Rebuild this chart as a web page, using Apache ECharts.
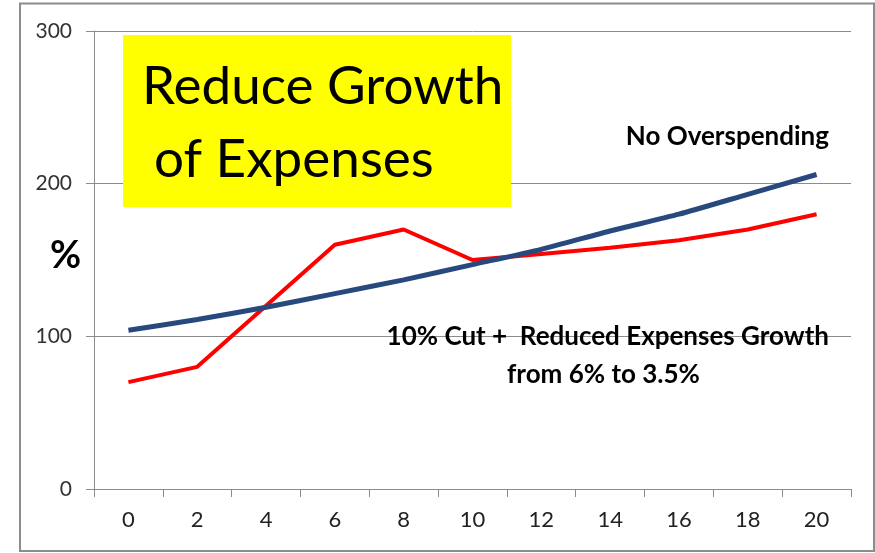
<!DOCTYPE html>
<html>
<head>
<meta charset="utf-8">
<script src="https://cdn.jsdelivr.net/npm/echarts@6/dist/echarts.min.js"></script>
<style>
  html, body { margin: 0; padding: 0; background: #fff; }
  #main { width: 875px; height: 553px; }
</style>
</head>
<body>
<div id="main"></div>
<script>
// data
var years = ['0', '2', '4', '6', '8', '10', '12', '14', '16', '18', '20'];
var noOverspending = [104, 111, 119, 128, 137, 147, 157, 169, 180, 193, 206];
var cutAndReduced = [70, 80, 120, 160, 170, 150, 154, 158, 163, 170, 180];
var yTicks = [0, 100, 200, 300];

var chart = echarts.init(document.getElementById('main'));
var font = 'Lato, "Open Sans", sans-serif';

var option = {
    animation: false,
    backgroundColor: '#fff',
    grid: { left: 94, right: 24, top: 31, bottom: 64 },
    xAxis: {
        type: 'category',
        data: years,
        boundaryGap: true,
        axisLine: { lineStyle: { color: '#8c8c8c', width: 1 } },
        axisTick: { show: true, length: 8, lineStyle: { color: '#8c8c8c' } },
        axisLabel: { color: '#222', fontSize: 22, fontFamily: font, margin: 20 }
    },
    yAxis: {
        type: 'value',
        min: yTicks[0],
        max: yTicks[yTicks.length - 1],
        interval: 100,
        axisLine: { show: true, lineStyle: { color: '#8c8c8c', width: 1 } },
        axisTick: { show: true, length: 8, lineStyle: { color: '#8c8c8c' } },
        axisLabel: { color: '#333', fontSize: 21, fontFamily: font, margin: 22 },
        splitLine: { lineStyle: { color: '#8c8c8c', width: 1 } }
    },
    series: [
        {
            name: 'No Overspending',
            type: 'line',
            data: noOverspending,
            symbol: 'none',
            smooth: 0.2,
            lineStyle: { color: '#27497e', width: 5 },
            z: 3
        },
        {
            name: '10% Cut + Reduced Expenses Growth',
            type: 'line',
            data: cutAndReduced,
            symbol: 'none',
            lineStyle: { color: '#ff0000', width: 4 },
            z: 2
        }
    ],
    graphic: [
        // outer frame
        {
            type: 'rect', silent: true, z: 0,
            shape: { x: 20, y: 3.5, width: 854, height: 547.5 },
            style: { fill: 'none', stroke: '#8c8c8c', lineWidth: 2 }
        },
        // yellow title box
        {
            type: 'rect', z: 10,
            shape: { x: 123, y: 35, width: 388, height: 172 },
            style: { fill: '#ffff00' }
        },
        {
            type: 'text', z: 11, left: 142, top: 60,
            style: { text: 'Reduce Growth', font: '53px ' + font, fill: '#000' }
        },
        {
            type: 'text', z: 11, left: 154, top: 133,
            style: { text: 'of Expenses', font: '53px ' + font, fill: '#000' }
        },
        {
            type: 'text', z: 11, left: 50, top: 237,
            style: { text: '%', font: 'bold 38px ' + font, fill: '#000' }
        },
        {
            type: 'text', z: 11, right: 46, top: 124,
            style: { text: 'No Overspending', font: 'bold 26px ' + font, fill: '#000' }
        },
        {
            type: 'text', z: 11, right: 46, top: 324,
            style: { text: '10% Cut +  Reduced Expenses Growth', font: 'bold 26px ' + font, fill: '#000' }
        },
        {
            type: 'text', z: 11, left: 507, top: 362,
            style: { text: 'from 6% to 3.5%', font: 'bold 26px ' + font, fill: '#000' }
        }
    ]
};
chart.setOption(option);
</script>
</body>
</html>
